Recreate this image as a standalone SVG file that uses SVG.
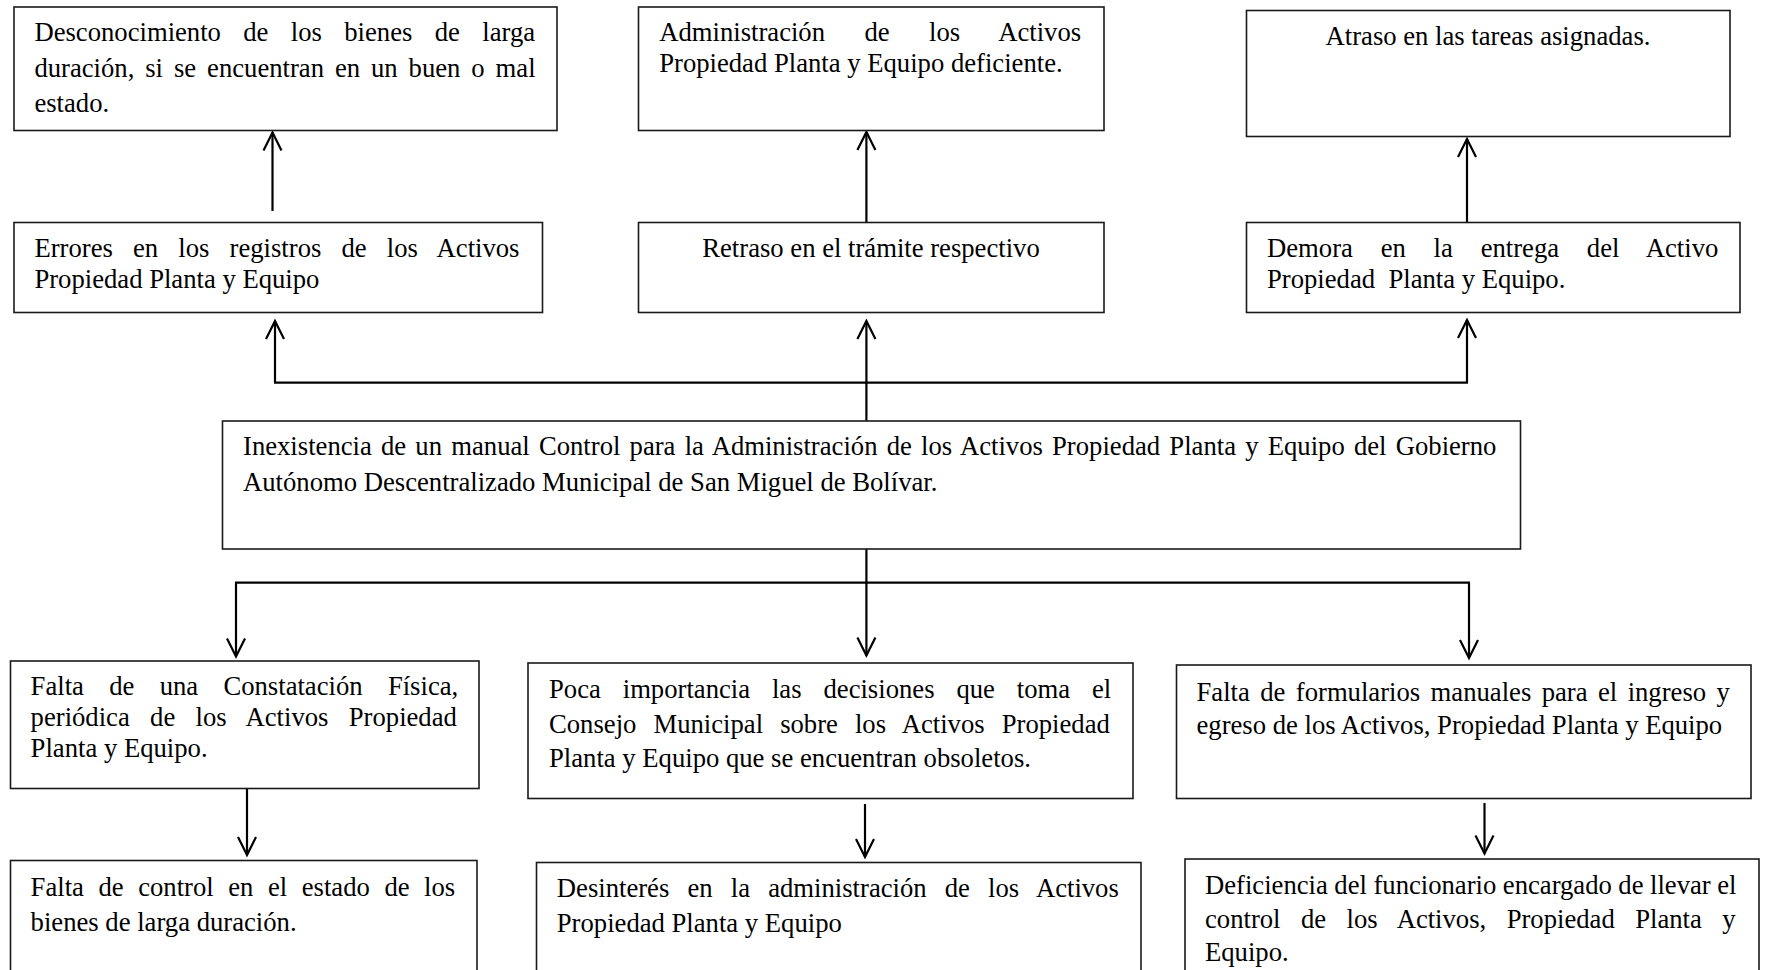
<svg xmlns="http://www.w3.org/2000/svg" width="1768" height="970" viewBox="0 0 1768 970">
<style>
.box{fill:#fff;stroke:#1a1a1a;stroke-width:1.6}
.t{font-family:"Liberation Serif","Times New Roman",serif;font-size:26.67px;fill:#000}
.m{text-anchor:middle}
.c{stroke:#000;stroke-width:2.2;fill:none}
</style>
<defs>
<marker id="arr" markerUnits="userSpaceOnUse" markerWidth="24" markerHeight="24" viewBox="-21 -12 24 24" refX="0" refY="0" orient="auto">
<path d="M-18,-9 L0,0 L-18,9" fill="none" stroke="#000" stroke-width="2.2"/>
</marker>
</defs>
<rect width="1768" height="970" fill="#fff"/>

<g id="connectors">
<line class="c" x1="272.5" y1="211" x2="272.5" y2="132.5" marker-end="url(#arr)"/>
<line class="c" x1="866.4" y1="222.5" x2="866.4" y2="132" marker-end="url(#arr)"/>
<line class="c" x1="1467" y1="222.5" x2="1467" y2="139" marker-end="url(#arr)"/>
<line class="c" x1="274" y1="382.7" x2="1468" y2="382.7"/>
<line class="c" x1="275" y1="382.7" x2="275" y2="321" marker-end="url(#arr)"/>
<line class="c" x1="866.4" y1="421" x2="866.4" y2="321" marker-end="url(#arr)"/>
<line class="c" x1="1467" y1="382.7" x2="1467" y2="320" marker-end="url(#arr)"/>
<line class="c" x1="866.4" y1="549" x2="866.4" y2="582.7"/>
<line class="c" x1="235" y1="582.7" x2="1470" y2="582.7"/>
<line class="c" x1="236" y1="582.7" x2="236" y2="656.5" marker-end="url(#arr)"/>
<line class="c" x1="866.4" y1="582.7" x2="866.4" y2="655.5" marker-end="url(#arr)"/>
<line class="c" x1="1469" y1="582.7" x2="1469" y2="658" marker-end="url(#arr)"/>
<line class="c" x1="247" y1="788.5" x2="247" y2="855" marker-end="url(#arr)"/>
<line class="c" x1="865" y1="804" x2="865" y2="857" marker-end="url(#arr)"/>
<line class="c" x1="1484.5" y1="803" x2="1484.5" y2="853.5" marker-end="url(#arr)"/>
</g>

<g id="n1">
<rect class="box" x="14" y="7" width="543" height="123.5"/>
<text class="t" x="34.4" y="41" word-spacing="15.7">Desconocimiento de los bienes de larga</text>
<text class="t" x="34.4" y="76.5" word-spacing="4.26">duración, si se encuentran en un buen o mal</text>
<text class="t" x="34.4" y="111.5">estado.</text>
</g>

<g id="n2">
<rect class="box" x="14" y="222.5" width="528.5" height="90"/>
<text class="t" x="34.4" y="257" word-spacing="13.48">Errores en los registros de los Activos</text>
<text class="t" x="34.4" y="287.5">Propiedad Planta y Equipo</text>
</g>

<g id="n3">
<rect class="box" x="638.5" y="7" width="465.5" height="123.5"/>
<text class="t" x="659.2" y="41" word-spacing="32.8">Administración de los Activos</text>
<text class="t" x="659.2" y="72">Propiedad Planta y Equipo deficiente.</text>
</g>

<g id="n4">
<rect class="box" x="638.5" y="222.5" width="465.5" height="90"/>
<text class="t m" x="871" y="257">Retraso en el trámite respectivo</text>
</g>

<g id="n5">
<rect class="box" x="1246.5" y="10.5" width="483.5" height="126"/>
<text class="t m" x="1488" y="45">Atraso en las tareas asignadas.</text>
</g>

<g id="n6">
<rect class="box" x="1246.5" y="222.5" width="493.5" height="90"/>
<text class="t" x="1267" y="257" word-spacing="21.13">Demora en la entrega del Activo</text>
<text class="t" x="1267" y="287.5" xml:space="preserve">Propiedad  Planta y Equipo.</text>
</g>

<g id="n7">
<rect class="box" x="222.5" y="421" width="1298" height="128"/>
<text class="t" x="243" y="455" word-spacing="2.55">Inexistencia de un manual Control para la Administración de los Activos Propiedad Planta y Equipo del Gobierno</text>
<text class="t" x="243" y="491">Autónomo Descentralizado Municipal de San Miguel de Bolívar.</text>
</g>

<g id="n8">
<rect class="box" x="10.5" y="661" width="468.5" height="127.5"/>
<text class="t" x="30.6" y="695" word-spacing="18.63">Falta de una Constatación Física,</text>
<text class="t" x="30.6" y="726" word-spacing="13.66">periódica de los Activos Propiedad</text>
<text class="t" x="30.6" y="757">Planta y Equipo.</text>
</g>

<g id="n9">
<rect class="box" x="528" y="663" width="605" height="135.5"/>
<text class="t" x="549" y="698" word-spacing="15.25">Poca importancia las decisiones que toma el</text>
<text class="t" x="549" y="733" word-spacing="10.43">Consejo Municipal sobre los Activos Propiedad</text>
<text class="t" x="549" y="767">Planta y Equipo que se encuentran obsoletos.</text>
</g>

<g id="n10">
<rect class="box" x="1176.5" y="665" width="574.5" height="133.5"/>
<text class="t" x="1196.5" y="700.5" word-spacing="3.76">Falta de formularios manuales para el ingreso y</text>
<text class="t" x="1196.5" y="734">egreso de los Activos, Propiedad Planta y Equipo</text>
</g>

<g id="n11">
<rect class="box" x="10.5" y="860.5" width="466.5" height="130"/>
<text class="t" x="30.6" y="896" word-spacing="7.89">Falta de control en el estado de los</text>
<text class="t" x="30.6" y="931">bienes de larga duración.</text>
</g>

<g id="n12">
<rect class="box" x="536.5" y="862.5" width="604.5" height="130"/>
<text class="t" x="556.8" y="897" word-spacing="11.5">Desinterés en la administración de los Activos</text>
<text class="t" x="556.8" y="932">Propiedad Planta y Equipo</text>
</g>

<g id="n13">
<rect class="box" x="1185" y="859" width="574" height="130"/>
<text class="t" x="1205" y="894" word-spacing="-0.15">Deficiencia del funcionario encargado de llevar el</text>
<text class="t" x="1205" y="927.5" word-spacing="13.78">control de los Activos, Propiedad Planta y</text>
<text class="t" x="1205" y="961">Equipo.</text>
</g>
</svg>
